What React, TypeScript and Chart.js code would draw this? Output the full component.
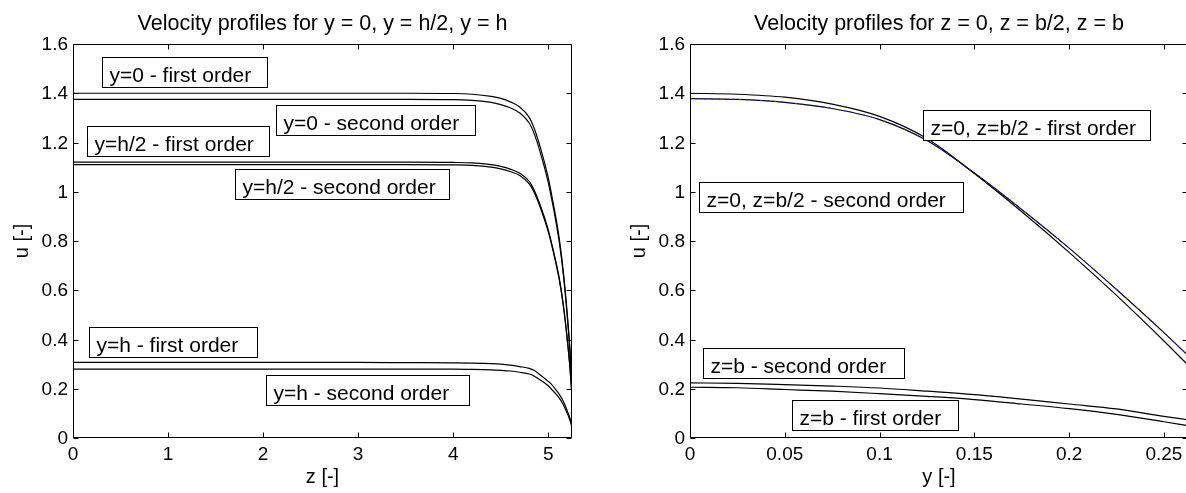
import React, { useEffect, useRef } from 'react';
import { Chart, registerables } from 'chart.js';

Chart.register(...registerables);

// ---------- Left panel data: u along z for y = 0, h/2, h ----------
const zValues = [0, 1, 2, 3, 3.5, 4, 4.2, 4.4, 4.5, 4.6, 4.7, 4.8, 4.85, 4.92, 5.0, 5.03, 5.08, 5.12, 5.16, 5.2, 5.23, 5.25];
const uY0First = [1.4, 1.4, 1.4, 1.4, 1.4, 1.399, 1.396, 1.387, 1.379, 1.365, 1.344, 1.302, 1.26, 1.176, 1.057, 1.0, 0.896, 0.799, 0.672, 0.504, 0.35, 0.21];
const uY0Second = [1.375, 1.375, 1.375, 1.375, 1.375, 1.374, 1.371, 1.363, 1.354, 1.341, 1.32, 1.279, 1.238, 1.155, 1.038, 0.982, 0.88, 0.785, 0.66, 0.495, 0.344, 0.206];
const uYh2First = [1.12, 1.12, 1.12, 1.12, 1.12, 1.119, 1.117, 1.11, 1.103, 1.092, 1.075, 1.042, 1.008, 0.941, 0.846, 0.8, 0.717, 0.64, 0.538, 0.403, 0.28, 0.168];
const uYh2Second = [1.11, 1.11, 1.11, 1.11, 1.11, 1.109, 1.107, 1.1, 1.093, 1.082, 1.066, 1.032, 0.999, 0.932, 0.838, 0.793, 0.71, 0.634, 0.533, 0.4, 0.278, 0.167];
const uYhFirst = [0.307, 0.307, 0.307, 0.307, 0.306, 0.305, 0.304, 0.302, 0.3, 0.296, 0.29, 0.283, 0.275, 0.255, 0.23, 0.22, 0.196, 0.175, 0.148, 0.11, 0.078, 0.05];
const uYhSecond = [0.28, 0.28, 0.28, 0.28, 0.28, 0.28, 0.279, 0.277, 0.275, 0.272, 0.267, 0.26, 0.252, 0.235, 0.212, 0.2, 0.179, 0.16, 0.134, 0.1, 0.07, 0.045];

// ---------- Right panel data: u along y for z = 0, b/2, b ----------
const yValues = [0, 0.025, 0.05, 0.075, 0.1, 0.125, 0.15, 0.175, 0.2, 0.225, 0.25, 0.2627];
const uZ0First = [1.4, 1.396, 1.384, 1.356, 1.306, 1.216, 1.074, 0.919, 0.754, 0.579, 0.394, 0.296];
const uZ0Second = [1.378, 1.375, 1.363, 1.338, 1.293, 1.208, 1.076, 0.928, 0.771, 0.603, 0.428, 0.335];
const uZbSecond = [0.224, 0.222, 0.217, 0.211, 0.203, 0.19, 0.176, 0.158, 0.138, 0.118, 0.088, 0.074];
const uZbFirst = [0.206, 0.204, 0.197, 0.19, 0.18, 0.169, 0.156, 0.138, 0.119, 0.096, 0.066, 0.05];

// ---------- Ticks ----------
const uTicks = [0, 0.2, 0.4, 0.6, 0.8, 1, 1.2, 1.4, 1.6];
const uTickLabels = ['0', '0.2', '0.4', '0.6', '0.8', '1', '1.2', '1.4', '1.6'];
const zTicks = [0, 1, 2, 3, 4, 5];
const zTickLabels = ['0', '1', '2', '3', '4', '5'];
const yTicks = [0, 0.05, 0.1, 0.15, 0.2, 0.25];
const yTickLabels = ['0', '0.05', '0.1', '0.15', '0.2', '0.25'];

// ---------- Text boxes (data coords: left, right, vertical centre) ----------
const leftNotes = [
  { text: 'y=0 - first order', x0: 0.306, x1: 2.039, yc: 1.486 },
  { text: 'y=0 - second order', x0: 2.139, x1: 4.23, yc: 1.292 },
  { text: 'y=h/2 - first order', x0: 0.145, x1: 2.067, yc: 1.206 },
  { text: 'y=h/2 - second order', x0: 1.704, x1: 3.96, yc: 1.03 },
  { text: 'y=h - first order', x0: 0.165, x1: 1.934, yc: 0.39 },
  { text: 'y=h - second order', x0: 2.035, x1: 4.166, yc: 0.193 },
];
const rightNotes = [
  { text: 'z=0, z=b/2 - first order', x0: 0.1229, x1: 0.2427, yc: 1.27 },
  { text: 'z=0, z=b/2 - second order', x0: 0.0049, x1: 0.1442, yc: 0.978 },
  { text: 'z=b - second order', x0: 0.0067, x1: 0.1128, yc: 0.306 },
  { text: 'z=b - first order', x0: 0.0538, x1: 0.1416, yc: 0.092 },
];

const FONT = '"Liberation Sans", Arial, Helvetica, sans-serif';

type Note = { text: string; x0: number; x1: number; yc: number };
type Panel = {
  title: string;
  xLabel: string;
  yLabel: string;
  xMax: number;
  xTicks: number[];
  xTickLabels: string[];
  notes: Note[];
  drawRight: boolean;
};

function decorPlugin(p: Panel) {
  return {
    id: 'panelDecor',
    afterDatasetsDraw(chart: any) {
      const { ctx, chartArea: a, scales } = chart;
      const xs = scales.x;
      const ys = scales.y;
      const L = Math.round(a.left) + 0.5;
      const R = Math.round(a.right) - 0.5;
      const T = Math.round(a.top) + 0.5;
      const B = Math.round(a.bottom) - 0.5;
      const TL = 5;
      ctx.save();
      ctx.strokeStyle = '#000';
      ctx.fillStyle = '#000';
      ctx.lineWidth = 1;
      // box
      ctx.beginPath();
      ctx.moveTo(L, T);
      ctx.lineTo(R, T);
      ctx.moveTo(L, T);
      ctx.lineTo(L, B);
      ctx.lineTo(R, B);
      if (p.drawRight) {
        ctx.moveTo(R, T);
        ctx.lineTo(R, B);
      }
      ctx.stroke();
      // inward ticks
      ctx.beginPath();
      p.xTicks.forEach((v) => {
        const x = Math.round(xs.getPixelForValue(v)) + 0.5;
        ctx.moveTo(x, B);
        ctx.lineTo(x, B - TL);
        ctx.moveTo(x, T);
        ctx.lineTo(x, T + TL);
      });
      uTicks.forEach((v) => {
        const y = Math.round(ys.getPixelForValue(v)) + 0.5;
        ctx.moveTo(L, y);
        ctx.lineTo(L + TL, y);
        ctx.moveTo(R, y);
        ctx.lineTo(R - TL, y);
      });
      ctx.stroke();

      // text boxes
      p.notes.forEach((n) => {
        const x0 = Math.round(xs.getPixelForValue(n.x0)) + 0.5;
        const x1 = Math.round(xs.getPixelForValue(n.x1)) + 0.5;
        const yc = ys.getPixelForValue(n.yc);
        const h = 30;
        const y0 = Math.round(yc - h / 2) + 0.5;
        ctx.fillStyle = '#fff';
        ctx.fillRect(x0, y0, x1 - x0, h);
        ctx.strokeRect(x0, y0, x1 - x0, h);
        ctx.fillStyle = '#000';
        ctx.font = `21px ${FONT}`;
        ctx.textAlign = 'left';
        ctx.textBaseline = 'alphabetic';
        ctx.fillText(n.text, x0 + 7, y0 + h - 6);
      });

      // tick labels
      ctx.fillStyle = '#000';
      ctx.font = `19px ${FONT}`;
      ctx.textBaseline = 'alphabetic';
      ctx.textAlign = 'right';
      uTicks.forEach((v, i) => {
        const y = ys.getPixelForValue(v);
        ctx.fillText(uTickLabels[i], a.left - 5, y + 6);
      });
      ctx.textAlign = 'center';
      p.xTicks.forEach((v, i) => {
        const x = xs.getPixelForValue(v);
        ctx.fillText(p.xTickLabels[i], x, a.bottom + 22);
      });

      // title and axis labels
      const cx = (a.left + a.right) / 2;
      ctx.font = `21.5px ${FONT}`;
      ctx.textAlign = 'center';
      ctx.fillText(p.title, cx, 29.5);
      ctx.font = `20px ${FONT}`;
      ctx.fillText(p.xLabel, cx, a.bottom + 45);
      ctx.save();
      ctx.translate(a.left - 45, (a.top + a.bottom) / 2);
      ctx.rotate(-Math.PI / 2);
      ctx.textAlign = 'center';
      ctx.fillText(p.yLabel, 0, 0);
      ctx.restore();
      ctx.restore();
    },
  };
}

function series(xv: number[], yv: number[], color = '#000', dash: number[] = [], width = 1.2) {
  return {
    data: xv.map((x, i) => ({ x, y: yv[i] })),
    borderColor: color,
    borderWidth: width,
    borderDash: dash,
    pointRadius: 0,
    cubicInterpolationMode: 'monotone' as const,
    fill: false,
  };
}

function makeConfig(p: Panel, datasets: any[], yAxisWidth: number, rightPad: number) {
  return {
    type: 'line' as const,
    data: { datasets },
    options: {
      responsive: false,
      animation: false as const,
      devicePixelRatio: 1,
      layout: { padding: { top: 44, right: rightPad, left: 0, bottom: 0 } },
      plugins: { legend: { display: false }, tooltip: { enabled: false }, title: { display: false } },
      events: [],
      scales: {
        x: {
          type: 'linear' as const,
          min: 0,
          max: p.xMax,
          grid: { display: false },
          border: { display: false },
          ticks: { display: false },
          afterFit: (s: any) => {
            s.height = 55;
          },
        },
        y: {
          type: 'linear' as const,
          min: 0,
          max: 1.6,
          grid: { display: false },
          border: { display: false },
          ticks: { display: false },
          afterFit: (s: any) => {
            s.width = yAxisWidth;
          },
        },
      },
    },
    plugins: [decorPlugin(p)],
  };
}

const leftPanel: Panel = {
  title: 'Velocity profiles for y = 0, y = h/2, y = h',
  xLabel: 'z [-]',
  yLabel: 'u [-]',
  xMax: 5.25,
  xTicks: zTicks,
  xTickLabels: zTickLabels,
  notes: leftNotes,
  drawRight: true,
};

const rightPanel: Panel = {
  title: 'Velocity profiles for z = 0, z = b/2, z = b',
  xLabel: 'y [-]',
  yLabel: 'u [-]',
  xMax: 0.2627,
  xTicks: yTicks,
  xTickLabels: yTickLabels,
  notes: rightNotes,
  drawRight: true,
};

export default function App() {
  const leftRef = useRef<HTMLCanvasElement | null>(null);
  const rightRef = useRef<HTMLCanvasElement | null>(null);

  useEffect(() => {
    const leftSets = [
      series(zValues, uY0First),
      series(zValues, uY0Second),
      series(zValues, uYh2First),
      series(zValues, uYh2Second),
      series(zValues, uYhFirst),
      series(zValues, uYhSecond),
    ];
    const rightSets = [
      series(yValues, uZ0Second, '#2a2aff', [2, 5], 1),
      series(yValues, uZ0First),
      series(yValues, uZ0Second),
      series(yValues, uZbSecond),
      series(yValues, uZbFirst),
    ];
    const c1 = new Chart(leftRef.current as HTMLCanvasElement, makeConfig(leftPanel, leftSets, 73, 28) as any);
    const c2 = new Chart(rightRef.current as HTMLCanvasElement, makeConfig(rightPanel, rightSets, 90, 2) as any);
    return () => {
      c1.destroy();
      c2.destroy();
    };
  }, []);

  return (
    <div
      style={{
        position: 'absolute',
        left: 0,
        top: 0,
        width: 1186,
        height: 493,
        overflow: 'hidden',
        background: '#fff',
      }}
    >
      <canvas ref={leftRef} width={600} height={493} style={{ position: 'absolute', left: 0, top: 0, width: 600, height: 493 }} />
      <canvas ref={rightRef} width={590} height={493} style={{ position: 'absolute', left: 600, top: 0, width: 590, height: 493 }} />
    </div>
  );
}
